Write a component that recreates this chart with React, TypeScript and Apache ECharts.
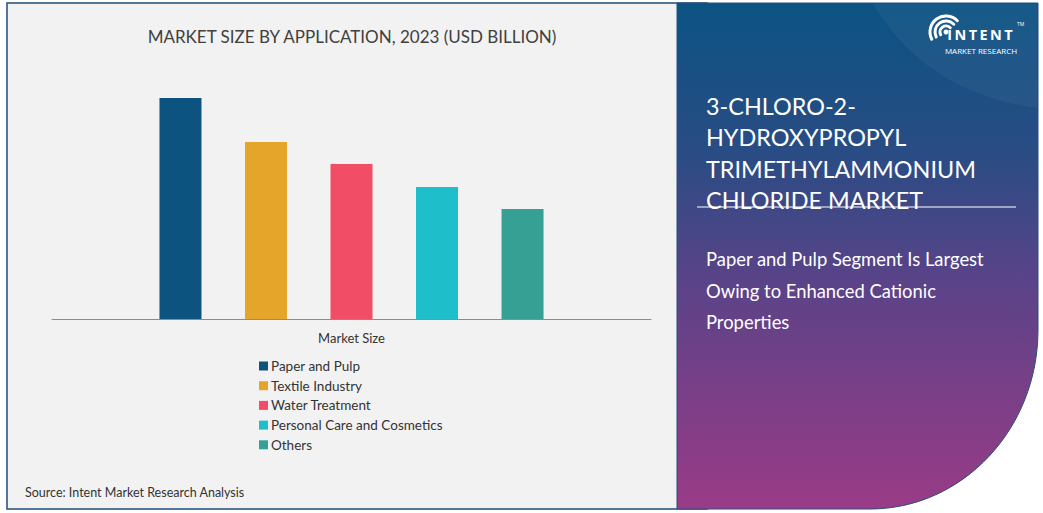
import React, { useEffect, useRef } from 'react';
import * as echarts from 'echarts';

const categories = ['Market Size'];
const seriesNames = ['Paper and Pulp', 'Textile Industry', 'Water Treatment', 'Personal Care and Cosmetics', 'Others'];
const seriesValues = [44.2, 35.4, 31.0, 26.4, 22.0];
const seriesColors = ['#0d5380', '#e5a52b', '#f14d67', '#1ebfcb', '#35a093'];
const chartTitle = 'MARKET SIZE BY APPLICATION, 2023 (USD BILLION)';
const reportTitleLines = ['3-CHLORO-2-', 'HYDROXYPROPYL', 'TRIMETHYLAMMONIUM', 'CHLORIDE MARKET'];
const insightLines = ['Paper and Pulp Segment Is Largest', 'Owing to Enhanced Cationic', 'Properties'];
const sourceText = 'Source: Intent Market Research Analysis';

let registered = false;
function registerShapes() {
  if (registered) return;
  registered = true;
  echarts.graphic.registerShape(
    'rightPanel',
    echarts.graphic.extendPath('M677 3 L1038 3 L1038 330 C1038 428.8 962.7 509 870 509 L677 509 Z', {})
  );
  echarts.graphic.registerShape(
    'swoosh',
    echarts.graphic.extendPath('M873 4 Q925 92 1037 108 L1037 4 Z', {})
  );
}

const FONT = 'Lato, "Open Sans", sans-serif';

export default function App() {
  const ref = useRef<HTMLDivElement>(null);
  useEffect(() => {
    if (!ref.current) return;
    registerShapes();
    const chart = echarts.init(ref.current, undefined, { renderer: 'svg' });

    const graphics: any[] = [
      {
        type: 'rect',
        z: -10,
        shape: { x: 7, y: 3, width: 700, height: 506 },
        style: { fill: '#f2f2f2', stroke: '#1f4e79', lineWidth: 1.5 },
      },
      {
        type: 'rightPanel',
        x: 0,
        y: 0,
        z: -9,
        style: {
          fill: new echarts.graphic.LinearGradient(0, 0, 0, 1, [
            { offset: 0, color: '#0b5383' },
            { offset: 0.3, color: '#2a4c84' },
            { offset: 0.55, color: '#5a4388' },
            { offset: 1, color: '#9a3b86' },
          ]),
          stroke: '#2a4f7a',
          lineWidth: 1,
        },
      },
      {
        type: 'swoosh',
        x: 0,
        y: 0,
        z: -8,
        style: { fill: 'rgba(255,255,255,0.045)' },
      },
      {
        type: 'text',
        z: 10,
        style: {
          text: chartTitle,
          x: 352,
          y: 36,
          align: 'center',
          verticalAlign: 'middle',
          fill: '#404040',
          fontSize: 17,
          fontFamily: FONT,
        },
      },
      {
        type: 'text',
        z: 10,
        style: {
          text: sourceText,
          x: 25,
          y: 492,
          verticalAlign: 'middle',
          fill: '#333333',
          fontSize: 12.5,
          fontFamily: FONT,
        },
      },
      {
        type: 'line',
        z: 10,
        shape: { x1: 697, y1: 207, x2: 1016, y2: 207 },
        style: { stroke: '#ffffff', lineWidth: 1 },
      },
    ];

    reportTitleLines.forEach((t, i) => {
      graphics.push({
        type: 'text',
        z: 10,
        style: {
          text: t,
          x: 706,
          y: 106 + i * 31.3,
          verticalAlign: 'middle',
          fill: '#ffffff',
          fontSize: 23.4,
          fontFamily: FONT,
        },
      });
    });
    insightLines.forEach((t, i) => {
      graphics.push({
        type: 'text',
        z: 10,
        style: {
          text: t,
          x: 706,
          y: 259 + i * 31.5,
          verticalAlign: 'middle',
          fill: '#ffffff',
          fontSize: 18.4,
          fontFamily: FONT,
        },
      });
    });

    // logo
    [6, 11, 16].forEach((r) => {
      graphics.push({
        type: 'arc',
        z: 10,
        shape: { cx: 946, cy: 32, r, startAngle: Math.PI * 0.85, endAngle: Math.PI * 1.75, clockwise: true },
        style: { stroke: '#ffffff', lineWidth: 3, fill: 'none', lineCap: 'round' },
      });
    });
    graphics.push(
      {
        type: 'circle',
        z: 10,
        shape: { cx: 946, cy: 32, r: 2.5 },
        style: { fill: '#ffffff' },
      },
      {
        type: 'text',
        z: 10,
        style: {
          text: 'I\u2009N\u2009T\u2009E\u2009N\u2009T',
          x: 980,
          y: 34,
          align: 'center',
          verticalAlign: 'middle',
          fill: '#ffffff',
          fontSize: 14.5,
          fontWeight: 'bold',
          fontFamily: '"Open Sans", sans-serif',
        },
      },
      {
        type: 'text',
        z: 10,
        style: {
          text: 'MARKET RESEARCH',
          x: 981,
          y: 50.5,
          align: 'center',
          verticalAlign: 'middle',
          fill: '#ffffff',
          fontSize: 8,
          fontFamily: '"Open Sans", sans-serif',
        },
      },
      {
        type: 'text',
        z: 10,
        style: {
          text: 'TM',
          x: 1017,
          y: 24,
          verticalAlign: 'middle',
          fill: '#ffffff',
          fontSize: 5,
          fontFamily: '"Open Sans", sans-serif',
        },
      }
    );

    const option: any = {
      animation: false,
      graphic: graphics,
      grid: { left: 52, right: 392, top: 69, bottom: 194, containLabel: false },
      legend: {
        orient: 'vertical',
        left: 254,
        top: 354,
        icon: 'rect',
        itemWidth: 9,
        itemHeight: 9,
        itemGap: 5.7,
        textStyle: { fontSize: 13.5, fontFamily: FONT, color: '#333333', lineHeight: 14, padding: [0, 0, 0, -2] },
        data: seriesNames,
      },
      xAxis: {
        type: 'category',
        data: categories,
        axisLine: { show: true, lineStyle: { color: '#8c8c8c', width: 1 } },
        axisTick: { show: false },
        axisLabel: { fontSize: 13, fontFamily: FONT, color: '#333333', margin: 12 },
      },
      yAxis: { type: 'value', min: 0, max: 50, show: false, splitLine: { show: false } },
      series: seriesNames.map((name, i) => ({
        name,
        type: 'bar',
        data: [seriesValues[i]],
        barWidth: 42,
        barGap: '103.6%',
        itemStyle: { color: seriesColors[i] },
      })),
    };
    chart.setOption(option);
    return () => chart.dispose();
  }, []);

  return (
    <div
      ref={ref}
      style={{ position: 'fixed', left: 0, top: 0, width: 1043, height: 513, background: '#ffffff' }}
    />
  );
}
